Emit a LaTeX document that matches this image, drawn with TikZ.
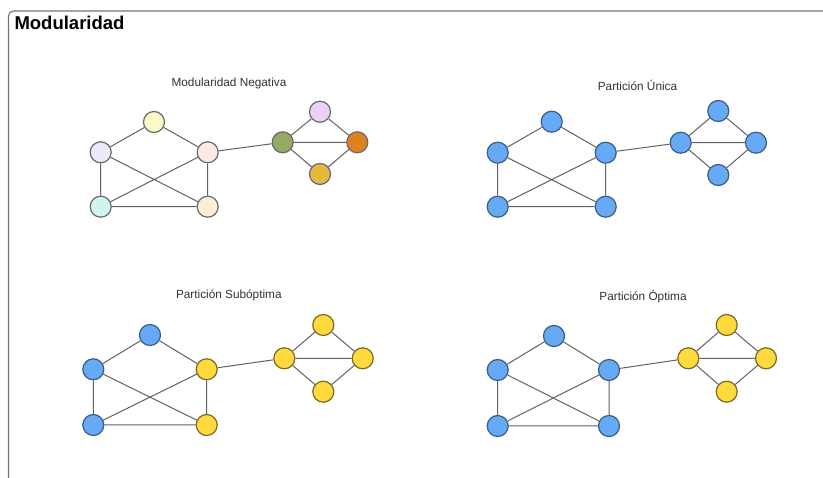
\documentclass[tikz,border=0pt]{standalone}
\usepackage{fontspec}
\setmainfont{Liberation Sans}
\definecolor{nodeblue}{RGB}{102,170,245}
\definecolor{blueedge}{RGB}{62,92,135}
\definecolor{nodeyellow}{RGB}{255,218,62}
\definecolor{yellowedge}{RGB}{125,105,35}
\definecolor{rimgray}{RGB}{105,105,112}
\definecolor{linkgray}{RGB}{98,98,98}
\definecolor{framegray}{RGB}{115,115,115}
\definecolor{paleyellow}{RGB}{252,251,200}
\definecolor{palelilac}{RGB}{236,234,250}
\definecolor{palepink}{RGB}{252,232,232}
\definecolor{palecyan}{RGB}{208,245,238}
\definecolor{palecream}{RGB}{252,240,212}
\definecolor{olive}{RGB}{150,170,100}
\definecolor{palepurple}{RGB}{236,208,246}
\definecolor{burntorange}{RGB}{222,130,32}
\definecolor{mustard}{RGB}{226,186,62}

\begin{document}
\begin{tikzpicture}[x=1pt,y=-1pt,
    vert/.style={circle,line width=1.2pt,minimum size=21pt,inner sep=0pt},
    pastel/.style={vert,draw=rimgray,fill=#1},
    blue/.style={vert,draw=blueedge,fill=nodeblue},
    yellow/.style={vert,draw=yellowedge,fill=nodeyellow},
    link/.style={draw=linkgray,line width=1pt},
    caption/.style={font=\fontsize{11.8}{14}\selectfont,text=black!80}]
    \useasboundingbox (0,0) rectangle (823,478);
    \fill[white] (0,0) rectangle (823,478);
    \draw[framegray,line width=1.1pt] (8.5,478) -- (8.5,16) arc (180:270:5) -- (823,11);
    \node[anchor=west,font=\bfseries\fontsize{18.5}{20}\selectfont] (title) at (11,22.5) {Modularidad};

    % modularidad negativa
    \node[caption] (capa) at (229,83) {Modularidad Negativa};
    \node[pastel=paleyellow] (a1) at (154,122) {};
    \node[pastel=palelilac] (a2) at (100.7,152.3) {};
    \node[pastel=palepink] (a3) at (207.7,152.3) {};
    \node[pastel=palecyan] (a4) at (100.7,206.7) {};
    \node[pastel=palecream] (a5) at (207.7,206.7) {};
    \node[pastel=olive] (a6) at (282.7,142.3) {};
    \node[pastel=palepurple] (a7) at (320,111.7) {};
    \node[pastel=burntorange] (a8) at (357.3,142.3) {};
    \node[pastel=mustard] (a9) at (320,174) {};

    % particion unica
    \node[caption] (capb) at (637.5,85) {Partición Única};
    \node[blue] (b1) at (551.7,121.7) {};
    \node[blue] (b2) at (497.7,152.7) {};
    \node[blue] (b3) at (605.7,152.7) {};
    \node[blue] (b4) at (497.7,206.7) {};
    \node[blue] (b5) at (605.7,206.7) {};
    \node[blue] (b6) at (680.7,142.7) {};
    \node[blue] (b7) at (718.3,111) {};
    \node[blue] (b8) at (756,142.7) {};
    \node[blue] (b9) at (718.3,175) {};

    % particion suboptima
    \node[caption] (capc) at (228.8,295.7) {Partición Subóptima};
    \node[blue] (c1) at (150,335) {};
    \node[blue] (c2) at (93.3,369.3) {};
    \node[yellow] (c3) at (206.7,369.3) {};
    \node[blue] (c4) at (93.3,425) {};
    \node[yellow] (c5) at (206.7,425) {};
    \node[yellow] (c6) at (284.3,358.3) {};
    \node[yellow] (c7) at (323.3,325) {};
    \node[yellow] (c8) at (362.7,358.3) {};
    \node[yellow] (c9) at (323.3,391.7) {};

    % particion optima
    \node[caption] (capd) at (643,297) {Partición Óptima};
    \node[blue] (d1) at (554,336) {};
    \node[blue] (d2) at (497.7,370) {};
    \node[blue] (d3) at (609,370) {};
    \node[blue] (d4) at (497.7,426) {};
    \node[blue] (d5) at (609,426) {};
    \node[yellow] (d6) at (688.3,358.3) {};
    \node[yellow] (d7) at (726.7,325) {};
    \node[yellow] (d8) at (766,358.3) {};
    \node[yellow] (d9) at (726.7,391.7) {};

    \foreach \g in {a,b,c,d}{
        \draw[link] (\g1)--(\g2) (\g1)--(\g3) (\g2)--(\g4) (\g2)--(\g5)
                    (\g3)--(\g4) (\g3)--(\g5) (\g4)--(\g5) (\g3)--(\g6);
        \draw[link] (\g6)--(\g7) (\g7)--(\g8) (\g6)--(\g8) (\g6)--(\g9) (\g9)--(\g8);
    }
\end{tikzpicture}
\end{document}
